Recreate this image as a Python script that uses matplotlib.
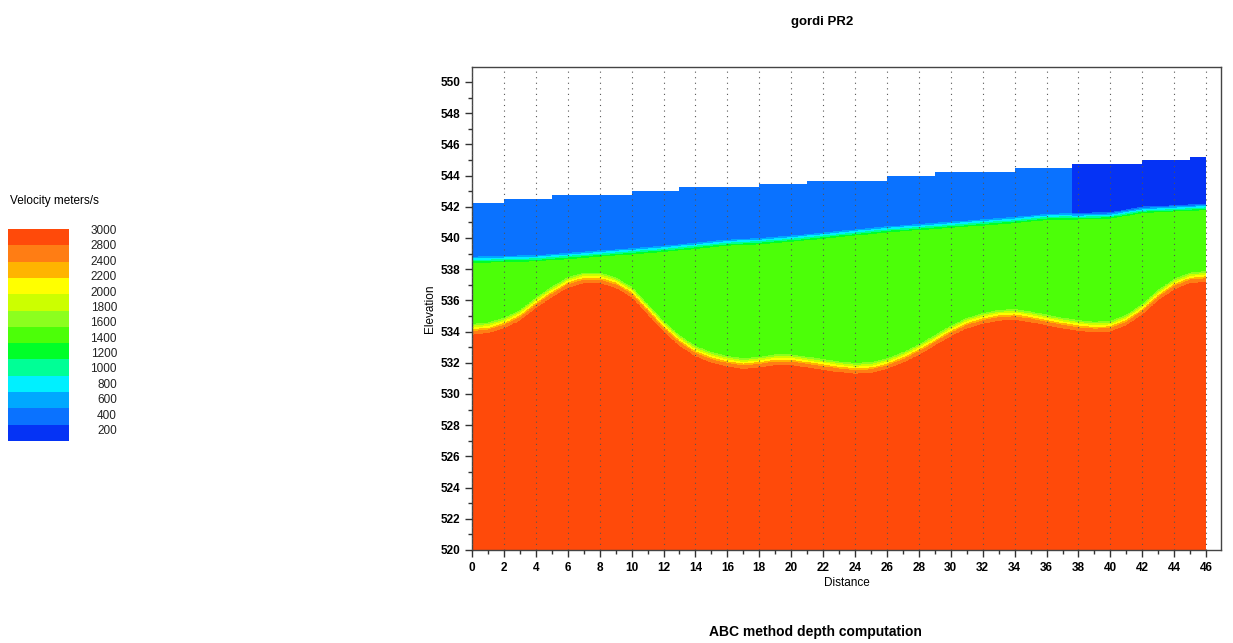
import numpy as np
import matplotlib
matplotlib.use('Agg')
import matplotlib.pyplot as plt
from matplotlib.colors import ListedColormap, BoundaryNorm
from matplotlib.ticker import MultipleLocator

plt.rcParams['font.family'] = ['Liberation Sans', 'DejaVu Sans']

# ---------------- data ----------------
velocity_levels = [200, 400, 600, 800, 1000, 1200, 1400, 1600, 1800, 2000, 2200, 2400, 2800, 3000]
level_colors = ['#0533F5', '#0A72FF', '#00A8FF', '#00F0FF', '#00FF96', '#00FF28',
                '#4CFF08', '#8CFF1E', '#CCFF00', '#FFFF00', '#FFB400', '#FF7D14', '#FF4A0A']
legend_labels = ['3000', '2800', '2400', '2200', '2000', '1800', '1600', '1400',
                 '1200', '1000', '800', '600', '400', '200']

# ground surface: step edges (distance) and elevation of each segment
surface_edges = [0, 2, 5, 10, 13, 18, 21, 26, 29, 34, 37.6, 42, 45, 46]
surface_elev = [542.24, 542.48, 542.76, 543.0, 543.25, 543.46, 543.67, 543.95,
                544.23, 544.47, 544.75, 545.02, 545.19]
layer1_velocity = [500, 500, 500, 500, 500, 500, 500, 500, 500, 500, 300, 300, 300]

# boundary between layer 1 and layer 2 (cyan line)
b1_dist = [0, 2, 4, 6, 8, 10, 12, 14, 16, 18, 20, 22, 24, 26, 28, 30, 32, 34, 36, 38, 40, 42, 44, 46]
b1_elev = [538.65, 538.7, 538.75, 538.9, 539.05, 539.2, 539.35, 539.55, 539.75, 539.85,
           540.0, 540.2, 540.4, 540.6, 540.75, 540.9, 541.05, 541.2, 541.4, 541.45,
           541.5, 541.85, 541.95, 542.05]
layer2_velocity = 1500

# boundary between layer 2 and layer 3 (yellow line)
b2_dist = [0, 1, 2, 3, 4, 5, 6, 7, 8, 9, 10, 11, 12, 13, 14, 15, 16, 17, 18, 19, 20, 21, 22, 23,
           24, 25, 26, 27, 28, 29, 30, 31, 32, 33, 34, 35, 36, 37, 38, 39, 40, 41, 42, 43, 44, 45, 46]
b2_elev = [534.2, 534.3, 534.6, 535.1, 535.9, 536.6, 537.2, 537.5, 537.5, 537.2, 536.6, 535.5,
           534.4, 533.5, 532.8, 532.4, 532.15, 532.0, 532.1, 532.25, 532.25, 532.1, 531.95, 531.8,
           531.7, 531.75, 532.0, 532.4, 532.9, 533.5, 534.1, 534.6, 534.9, 535.1, 535.15, 535.0,
           534.8, 534.6, 534.45, 534.35, 534.4, 534.8, 535.5, 536.4, 537.1, 537.5, 537.6]
layer3_velocity = 2900

# ---------------- field ----------------
xe = np.linspace(0, 46, 921)
ze = np.linspace(520, 546, 1301)
xc = 0.5 * (xe[:-1] + xe[1:])
zc = 0.5 * (ze[:-1] + ze[1:])
X, Z = np.meshgrid(xc, zc)

seg = np.clip(np.searchsorted(surface_edges, xc, side='right') - 1, 0, len(surface_elev) - 1)
surf = np.array(surface_elev)[seg]
v1 = np.array(layer1_velocity, dtype=float)[seg]
b1 = np.interp(xc, b1_dist, b1_elev)
b2 = np.interp(xc, b2_dist, b2_elev)

t1 = np.clip(0.4 + (b1[None, :] - Z) / 0.5, 0, 1)
t2 = np.clip(0.43 + (b2[None, :] - Z) / 0.8, 0, 1)
V = v1[None, :] + (layer2_velocity - v1[None, :]) * t1 + (layer3_velocity - layer2_velocity) * t2
V = np.ma.masked_where(Z > surf[None, :], V)

cmap = ListedColormap(level_colors)
norm = BoundaryNorm(velocity_levels, cmap.N)

# ---------------- figure ----------------
W, H = 1233, 643
fig = plt.figure(figsize=(W / 100, H / 100), dpi=100)
ax = fig.add_axes([472 / W, 1 - 550 / H, (1221 - 472) / W, (550 - 67) / H])
ax.pcolormesh(xe, ze, V, cmap=cmap, norm=norm, shading='flat', rasterized=True)

ax.set_xlim(0, 46.93)
ax.set_ylim(520, 550.96)
ax.xaxis.set_major_locator(MultipleLocator(2))
ax.xaxis.set_minor_locator(MultipleLocator(1))
ax.yaxis.set_major_locator(MultipleLocator(2))
ax.yaxis.set_minor_locator(MultipleLocator(1))
ax.tick_params(which='major', direction='out', length=5, width=1, color='#333333')
ax.tick_params(which='minor', direction='out', length=3, width=1, color='#333333')
for lab in ax.get_xticklabels() + ax.get_yticklabels():
    lab.set_fontweight('bold')
    lab.set_fontsize(8.5)
ax.grid(axis='x', which='major', linestyle=(0, (1, 4)), color='#555555', linewidth=0.8)
ax.set_axisbelow(False)
for s in ax.spines.values():
    s.set_color('#444444')
    s.set_linewidth(1)

ax.set_xlabel('Distance', fontsize=8.5, labelpad=2)
ax.set_ylabel('Elevation', fontsize=8.5, labelpad=3)

fig.text(822 / W, 1 - 22 / H, 'gordi PR2', ha='center', va='center', fontsize=9.5, fontweight='bold')
fig.text(815 / W, 1 - 632 / H, 'ABC method depth computation', ha='center', va='center',
         fontsize=10, fontweight='bold')

# ---------------- legend ----------------
lax = fig.add_axes([8 / W, 1 - 441 / H, 60 / W, (441 - 229) / H])
lax.imshow(np.arange(cmap.N)[::-1].reshape(-1, 1), cmap=cmap, aspect='auto',
           interpolation='nearest', vmin=-0.5, vmax=cmap.N - 0.5)
lax.axis('off')
fig.text(10 / W, 1 - 201 / H, 'Velocity meters/s', ha='left', va='center', fontsize=8.5)
n = len(legend_labels)
for i, lab in enumerate(legend_labels):
    ypix = 231 + i * (431 - 231) / (n - 1)
    fig.text(117 / W, 1 - ypix / H, lab, ha='right', va='center', fontsize=8.5, color='#222222')

fig.savefig('out.png', dpi=100)
